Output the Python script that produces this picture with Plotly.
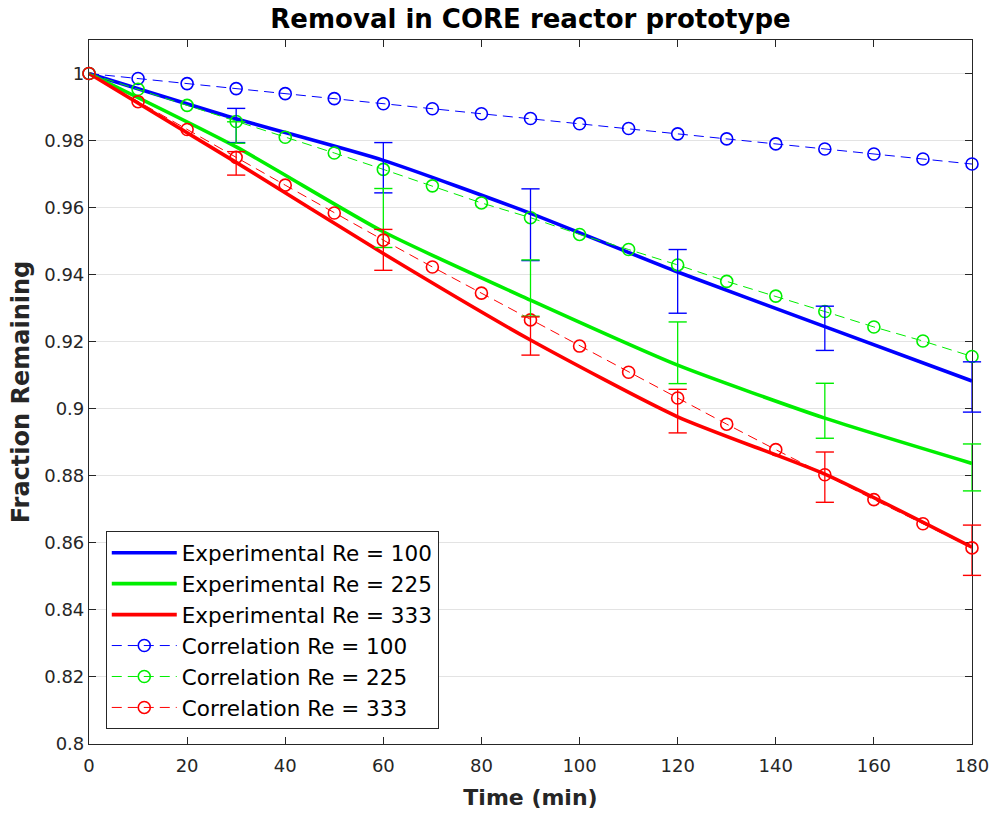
import plotly.graph_objects as go

# Correlation predictions, every 10 min
t_corr = [0, 10, 20, 30, 40, 50, 60, 70, 80, 90, 100, 110, 120, 130, 140, 150, 160, 170, 180]
corr_100 = [1.0, 0.9985, 0.997, 0.9955, 0.994, 0.9925, 0.991, 0.9895, 0.988, 0.9866,
            0.985, 0.9836, 0.982, 0.9805, 0.979, 0.9775, 0.976, 0.9745, 0.973]
corr_225 = [1.0, 0.9953, 0.9905, 0.9857, 0.981, 0.9763, 0.9714, 0.9665, 0.9614, 0.957,
            0.952, 0.9475, 0.9429, 0.938, 0.9336, 0.929, 0.9244, 0.9202, 0.9156]
corr_333 = [1.0, 0.9916, 0.9833, 0.975, 0.9667, 0.9584, 0.9503, 0.9423, 0.9345, 0.9265,
            0.9187, 0.9109, 0.9032, 0.8954, 0.8878, 0.8803, 0.8729, 0.8657, 0.8585]

# Experimental curves
t_exp = [0, 30, 60, 90, 120, 150, 180]
exp_100 = [1.0, 0.9865, 0.9741, 0.9583, 0.9408, 0.9245, 0.9083]
exp_225 = [1.0, 0.9781, 0.9528, 0.9324, 0.9130, 0.8972, 0.8837]
exp_333 = [1.0, 0.9735, 0.9463, 0.9205, 0.8976, 0.8805, 0.8587]

# Measured means and standard deviations
t_err = [30, 60, 90, 120, 150, 180]
mean_100 = [0.9845, 0.9719, 0.9549, 0.9380, 0.9240, 0.9065]
sd_100 = [0.0051, 0.0075, 0.0107, 0.0095, 0.0066, 0.0075]
mean_225 = [0.9824, 0.9569, 0.9360, 0.9167, 0.8994, 0.8825]
sd_225 = [0.0032, 0.0088, 0.0084, 0.0092, 0.0082, 0.0070]
mean_333 = [0.9732, 0.9474, 0.9217, 0.8993, 0.8796, 0.8578]
sd_333 = [0.0035, 0.0061, 0.0057, 0.0065, 0.0075, 0.0075]

y_ticks = [0.8, 0.82, 0.84, 0.86, 0.88, 0.9, 0.92, 0.94, 0.96, 0.98, 1.0]
y_tick_text = ["0.8", "0.82", "0.84", "0.86", "0.88", "0.9", "0.92", "0.94", "0.96", "0.98", "1"]
x_ticks = [0, 20, 40, 60, 80, 100, 120, 140, 160, 180]

re_labels = ["100", "225", "333"]
colors = ["#0000ff", "#00ee00", "#ff0000"]
exp_sets = [exp_100, exp_225, exp_333]
corr_sets = [corr_100, corr_225, corr_333]
mean_sets = [mean_100, mean_225, mean_333]
sd_sets = [sd_100, sd_225, sd_333]

FONT = "DejaVu Sans, Liberation Sans, Arial, sans-serif"
INK = "#262626"

fig = go.Figure()

for lbl, c, ys in zip(re_labels, colors, exp_sets):
    fig.add_trace(go.Scatter(
        x=t_exp, y=ys, mode="lines", name=f"Experimental Re = {lbl}",
        line=dict(color=c, width=3.6, shape="spline", smoothing=0.6),
    ))

for lbl, c, ys in zip(re_labels, colors, corr_sets):
    fig.add_trace(go.Scatter(
        x=t_corr, y=ys, mode="lines+markers", name=f"Correlation Re = {lbl}",
        line=dict(color=c, width=1, dash="10px,6px"),
        marker=dict(symbol="circle-open", size=12, color=c, line=dict(width=1.6, color=c)),
        cliponaxis=False,
    ))

# Error bars: vertical stems via error_y, caps as unclipped horizontal tick markers
for c, m, s in zip(colors, mean_sets, sd_sets):
    fig.add_trace(go.Scatter(
        x=t_err, y=m, mode="markers", showlegend=False, hoverinfo="skip",
        marker=dict(size=2, opacity=0, color=c),
        error_y=dict(type="data", array=s, visible=True, color=c, thickness=1.3, width=0),
        cliponaxis=False,
    ))
    cap_y = [mi + si for mi, si in zip(m, s)] + [mi - si for mi, si in zip(m, s)]
    fig.add_trace(go.Scatter(
        x=t_err + t_err, y=cap_y, mode="markers", showlegend=False, hoverinfo="skip",
        marker=dict(symbol="line-ew", size=13, color=c, line=dict(width=1.4, color=c)),
        cliponaxis=False,
    ))

axis_common = dict(
    showline=True, linecolor=INK, linewidth=1.2, mirror="allticks",
    ticks="inside", ticklen=7, tickcolor=INK, tickwidth=1,
    tickfont=dict(family=FONT, size=18, color=INK),
    zeroline=False, automargin=False, layer="below traces",
)

fig.update_layout(
    width=990, height=816, autosize=False,
    margin=dict(l=89, r=18, t=40, b=72),
    paper_bgcolor="white", plot_bgcolor="white",
    title=dict(
        text="<b>Removal in CORE reactor prototype</b>",
        x=(89 + 972) / 2 / 990, xanchor="center", y=1 - 19 / 816, yanchor="middle",
        font=dict(family=FONT, size=26, color="#000000"),
    ),
    xaxis=dict(
        range=[0, 180], tickvals=x_ticks, showgrid=False, ticklabelstandoff=5,
        title=dict(text="<b>Time (min)</b>", standoff=14,
                   font=dict(family=FONT, size=22, color=INK)),
        **axis_common,
    ),
    yaxis=dict(
        range=[0.8, 1.01], tickvals=y_ticks, ticktext=y_tick_text,
        showgrid=True, gridcolor="#e3e3e3", gridwidth=1,
        title=dict(text="<b>Fraction Remaining</b>", standoff=7,
                   font=dict(family=FONT, size=24, color=INK)),
        **axis_common,
    ),
    legend=dict(
        x=0.019, y=0.021, xanchor="left", yanchor="bottom",
        bgcolor="white", bordercolor=INK, borderwidth=1,
        font=dict(family=FONT, size=21.5, color="#000000"),
        tracegroupgap=0, itemwidth=65,
    ),
    showlegend=True,
)

fig.write_html("out.html")
